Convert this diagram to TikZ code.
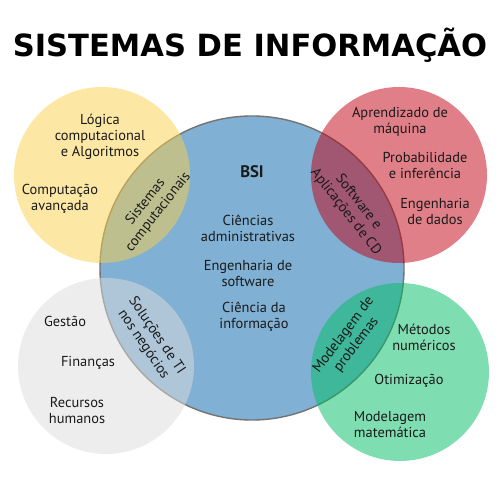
\documentclass[tikz,border=0pt]{standalone}
\usepackage{graphicx}
\usepackage{fontspec}
\setmainfont{PT Sans}
\newfontfamily\titlefont{DejaVu Sans}
\definecolor{amarelo}{HTML}{FBD14B}
\definecolor{vermelho}{HTML}{C20012}
\definecolor{cinza}{HTML}{DDDDDD}
\definecolor{verde}{HTML}{00BE64}
\definecolor{azul}{HTML}{80B0D3}
\definecolor{texto}{HTML}{1A1A1A}

\begin{document}
\begin{tikzpicture}[x=.02cm, y=.02cm,
  lbl/.style={align=center, text=texto, inner sep=0, font=\fontsize{8.2}{9.1}\selectfont}]
\useasboundingbox (0,0) rectangle (500,500);
\fill[white] (0,0) rectangle (500,500);
% circulo central
\draw[fill=azul, draw=black!55, line width=.8pt] (252,232) circle (152);
% areas externas
\foreach \cor/\cx/\cy/\r in {amarelo/102/325/88, vermelho/399/325/88, cinza/106/134/88, verde/400/128/89}
  \fill[\cor, fill opacity=.5] (\cx,\cy) circle (\r);
\node[anchor=base] (titulo) at (250,443) {\resizebox{270pt}{!}{\titlefont\bfseries SISTEMAS DE INFORMAÇÃO}};
\node[lbl, font=\fontsize{9.5}{10}\selectfont\bfseries] (bsi) at (252,328) {BSI};
\node[lbl] (adm) at (248,272) {Ciências\\administrativas};
\node[lbl] (engsw) at (248,227) {Engenharia de\\software};
\node[lbl] (cinf) at (254,183) {Ciência da\\informação};
\node[lbl] (logica) at (100,363) {Lógica\\computacional\\e Algoritmos};
\node[lbl] (comp) at (60,301) {Computação\\avançada};
\node[lbl] (aprend) at (400,378) {Aprendizado de\\máquina};
\node[lbl] (prob) at (425,335) {Probabilidade\\e inferência};
\node[lbl] (engdad) at (435,289) {Engenharia\\de dados};
\node[lbl] (gestao) at (65,179) {Gestão};
\node[lbl] (financas) at (88,137) {Finanças};
\node[lbl] (rh) at (77,90) {Recursos\\humanos};
\node[lbl] (metodos) at (424,163) {Métodos\\numéricos};
\node[lbl] (otim) at (409,119) {Otimização};
\node[lbl] (modmat) at (390,75) {Modelagem\\matemática};
% intersecoes
\node[lbl, rotate=52] (sistcomp) at (152,293) {Sistemas\\computacionais};
\node[lbl, rotate=-52] (swcd) at (352,293) {Software e\\Aplicações de CD};
\node[lbl, rotate=-56] (solucoes) at (150,160) {Soluções de TI\\nos negócios};
\node[lbl, rotate=53] (modprob) at (350,160) {Modelagem de\\problemas};
\end{tikzpicture}
\end{document}
